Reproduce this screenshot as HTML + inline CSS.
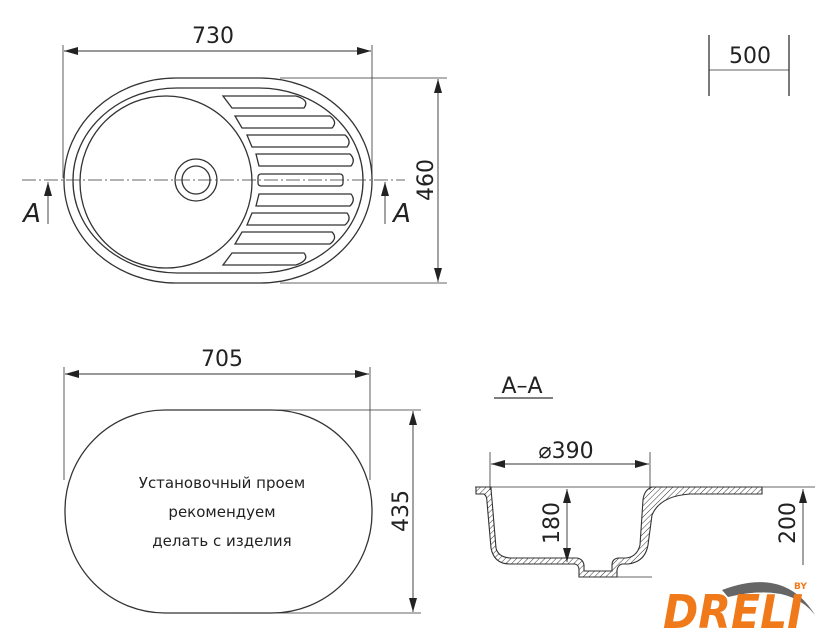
<!DOCTYPE html>
<html><head><meta charset="utf-8"><style>
html,body{margin:0;padding:0;background:#fff;}
svg{display:block;}
text{font-family:"DejaVu Sans","Liberation Sans",sans-serif;fill:#222;}
</style></head><body>
<svg width="840" height="640" viewBox="0 0 840 640" xmlns="http://www.w3.org/2000/svg">
<defs>
<marker id="ar" viewBox="0 0 14 8" refX="14" refY="4" markerWidth="14" markerHeight="8" orient="auto-start-reverse" markerUnits="userSpaceOnUse">
<path d="M0,0 L14,4 L0,8 z" fill="#222"/></marker>
<pattern id="hat" width="4" height="4" patternUnits="userSpaceOnUse" patternTransform="rotate(45)">
<line x1="0" y1="0" x2="0" y2="4" stroke="#333" stroke-width="1"/></pattern>
</defs>
<g stroke="#333" fill="none" stroke-width="1.3">
<!-- top view -->
<line x1="63" y1="45" x2="63" y2="178" stroke-width="0.8"/>
<line x1="372" y1="45" x2="372" y2="178" stroke-width="0.8"/>
<line x1="64" y1="51" x2="371" y2="51" marker-start="url(#ar)" marker-end="url(#ar)" stroke-width="0.9"/>
<rect x="64" y="78" width="308" height="205" rx="112" ry="102"/>
<rect x="73" y="88" width="290" height="185" rx="104" ry="92"/>
<circle cx="166" cy="182" r="86"/>
<circle cx="196" cy="180" r="21"/>
<circle cx="196" cy="180" r="14"/>
<line x1="22" y1="180" x2="405" y2="180" stroke-width="0.7" stroke-dasharray="14,3,2,3"/>
<line x1="280" y1="78" x2="447" y2="78" stroke-width="0.8"/>
<line x1="280" y1="283" x2="447" y2="283" stroke-width="0.8"/>
<line x1="438" y1="79" x2="438" y2="282" marker-start="url(#ar)" marker-end="url(#ar)" stroke-width="0.9"/>
<line x1="48" y1="224" x2="48" y2="182" marker-end="url(#ar)" stroke-width="0.9"/>
<line x1="385" y1="224" x2="385" y2="182" marker-end="url(#ar)" stroke-width="0.9"/>
<!-- grooves -->
<path d="M223,96 L296,96 Q310,100 304,108 L232,108 Z"/>
<path d="M235,116 L330,116 Q338,122 332,128 L242,128 Z"/>
<path d="M247,135 L345,135 Q352,141 347,147 L252,147 Z"/>
<path d="M256,154 L350,154 Q356,160 351,166 L259,166 Z"/>
<rect x="258" y="174" width="85" height="12" rx="3"/>
<path d="M259,194 L351,194 Q356,200 350,206 L256,206 Z"/>
<path d="M252,213 L347,213 Q352,219 345,225 L247,225 Z"/>
<path d="M242,232 L332,232 Q338,238 330,244 L235,244 Z"/>
<path d="M232,253 L304,253 Q310,260 296,265 L223,265 Z"/>
<!-- 500 -->
<line x1="709" y1="35" x2="709" y2="96"/>
<line x1="789" y1="35" x2="789" y2="96"/>
<line x1="709" y1="70" x2="789" y2="70" stroke-width="0.8"/>
<!-- bottom-left cutout -->
<line x1="64" y1="367" x2="64" y2="480" stroke-width="0.8"/>
<line x1="370" y1="367" x2="370" y2="480" stroke-width="0.8"/>
<line x1="65" y1="374" x2="369" y2="374" marker-start="url(#ar)" marker-end="url(#ar)" stroke-width="0.9"/>
<rect x="65" y="410" width="307" height="203" rx="100" ry="100"/>
<line x1="230" y1="410" x2="421" y2="410" stroke-width="0.8"/>
<line x1="230" y1="613" x2="421" y2="613" stroke-width="0.8"/>
<line x1="413" y1="411" x2="413" y2="612" marker-start="url(#ar)" marker-end="url(#ar)" stroke-width="0.9"/>
<!-- section -->
<line x1="494" y1="398" x2="553" y2="398"/>
<line x1="490" y1="452" x2="490" y2="490" stroke-width="0.8"/>
<line x1="650" y1="452" x2="650" y2="490" stroke-width="0.8"/>
<line x1="491" y1="464" x2="649" y2="464" marker-start="url(#ar)" marker-end="url(#ar)" stroke-width="0.9"/>
<path d="M476,487 L476,494 L484,494 Q487,496 487,502 L491,548 Q494,564 510,564 L575,564 Q579,565 579,570 L579,577 L617,577 L617,570 Q618,565 622,564 L628,564 Q645,562 648,545 L652,515 Q660,496 690,494 L762,494 L762,487 L652,487 Q644,490 643,500 L640,545 Q637,557 626,558 L618,558 Q612,559 612,565 L612,571 L584,571 L584,565 Q583,559 577,558 L510,558 Q498,557 496,548 L492,500 Q491,490 491,487 Z" fill="url(#hat)" stroke-width="1.1"/>
<line x1="475" y1="487" x2="815" y2="487" stroke-width="0.8"/>
<line x1="580" y1="577" x2="652" y2="577" stroke-width="0.8"/>
<line x1="567" y1="489" x2="567" y2="562" marker-start="url(#ar)" marker-end="url(#ar)" stroke-width="0.9"/>
<line x1="803" y1="489" x2="803" y2="565" marker-start="url(#ar)" stroke-width="0.9"/>
</g>
<g font-size="22">
<text x="213" y="43" text-anchor="middle">730</text>
<text x="750" y="63" text-anchor="middle">500</text>
<text x="222" y="366" text-anchor="middle">705</text>
<text transform="translate(433,180) rotate(-90)" text-anchor="middle">460</text>
<text transform="translate(408,511) rotate(-90)" text-anchor="middle">435</text>
<text x="522" y="393" text-anchor="middle">A–A</text>
<text x="566" y="458" text-anchor="middle">⌀390</text>
<text transform="translate(559,523) rotate(-90)" text-anchor="middle">180</text>
<text transform="translate(795,523) rotate(-90)" text-anchor="middle">200</text>
<text x="32" y="222" text-anchor="middle" font-style="italic" font-size="26">A</text>
<text x="402" y="222" text-anchor="middle" font-style="italic" font-size="26">A</text>
</g>
<g font-size="15" text-anchor="middle">
<text x="222" y="488">Установочный проем</text>
<text x="222" y="517">рекомендуем</text>
<text x="222" y="546">делать с изделия</text>
</g>
<!-- logo -->
<path d="M722,590 Q785,566 815,615 Q790,582 728,597 Z" fill="#666"/>
<text x="663" y="628" font-family="Liberation Sans,sans-serif" font-weight="bold" font-style="italic" font-size="46" style="fill:#f07a1a" textLength="140" lengthAdjust="spacingAndGlyphs">DRELI</text>
<text x="794" y="589" font-family="Liberation Sans,sans-serif" font-weight="bold" font-size="9" style="fill:#f07a1a">BY</text>
</svg>
</body></html>
